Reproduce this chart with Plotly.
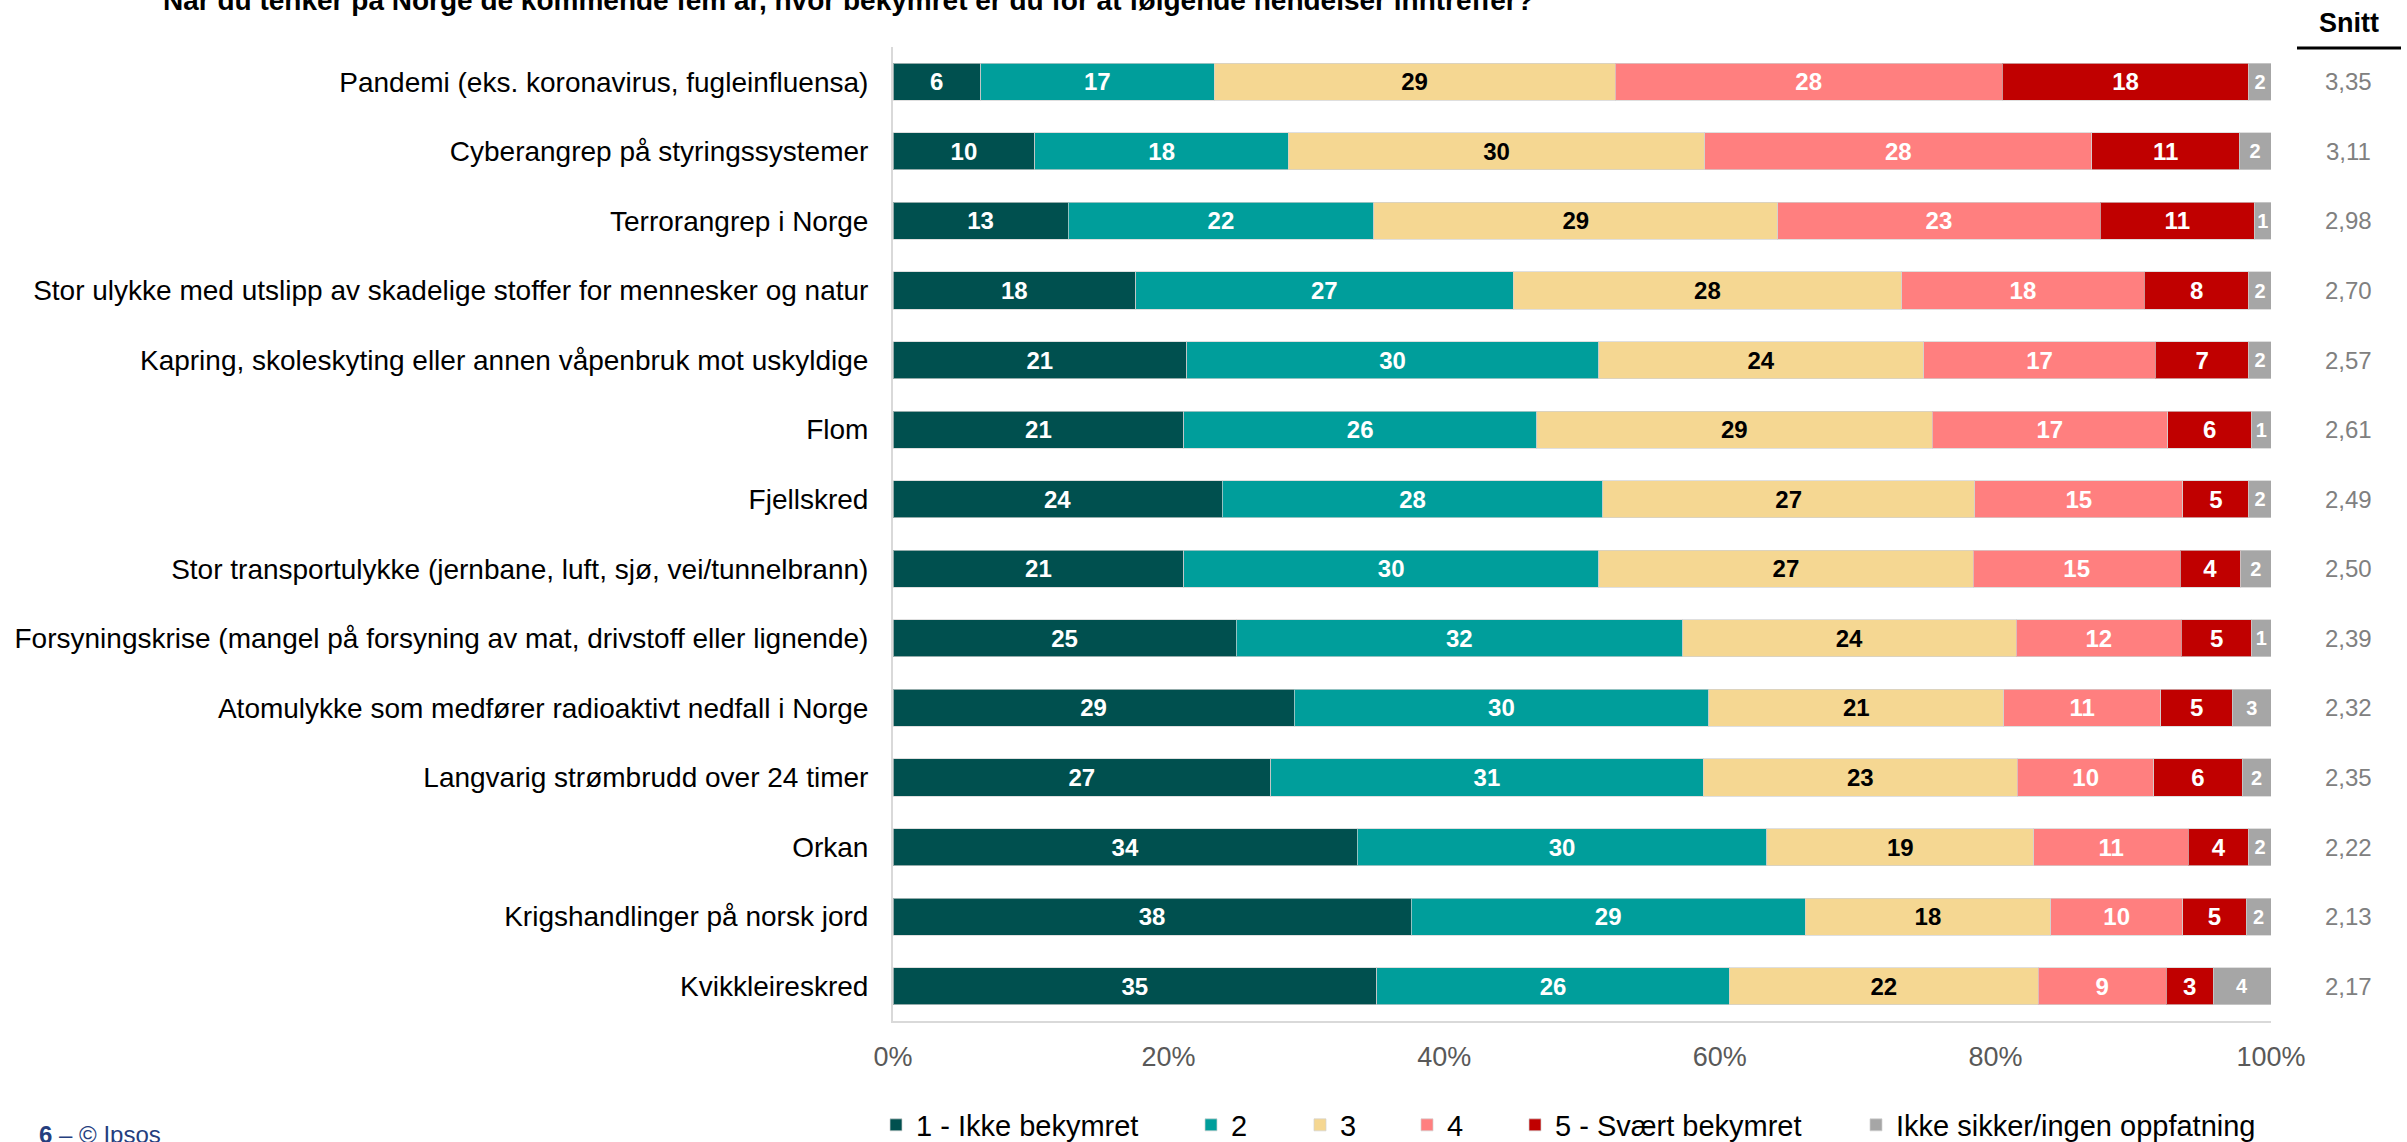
import plotly.graph_objects as go

categories = [
    "Pandemi (eks. koronavirus, fugleinfluensa)",
    "Cyberangrep på styringssystemer",
    "Terrorangrep i Norge",
    "Stor ulykke med utslipp av skadelige stoffer for mennesker og natur",
    "Kapring, skoleskyting eller annen våpenbruk mot uskyldige",
    "Flom",
    "Fjellskred",
    "Stor transportulykke (jernbane, luft, sjø, vei/tunnelbrann)",
    "Forsyningskrise (mangel på forsyning av mat, drivstoff eller lignende)",
    "Atomulykke som medfører radioaktivt nedfall i Norge",
    "Langvarig strømbrudd over 24 timer",
    "Orkan",
    "Krigshandlinger på norsk jord",
    "Kvikkleireskred",
]

ikke_bekymret = [6.35, 10.3, 12.7, 17.6, 21.3, 21.1, 23.9, 21.1, 24.9, 29.1, 27.4, 33.7, 37.6, 35.1]
score_2 = [16.95, 18.4, 22.2, 27.4, 29.9, 25.6, 27.6, 30.1, 32.4, 30.1, 31.4, 29.7, 28.6, 25.6]
score_3 = [29.1, 30.2, 29.3, 28.2, 23.6, 28.7, 27.0, 27.2, 24.2, 21.4, 22.8, 19.4, 17.8, 22.4]
score_4 = [28.1, 28.1, 23.4, 17.6, 16.8, 17.1, 15.1, 15.0, 12.0, 11.4, 9.9, 11.2, 9.6, 9.3]
svaert_bekymret = [17.9, 10.7, 11.2, 7.6, 6.8, 6.1, 4.8, 4.4, 5.1, 5.2, 6.4, 4.4, 4.6, 3.4]
ikke_sikker = [1.6, 2.3, 1.2, 1.6, 1.6, 1.4, 1.6, 2.2, 1.4, 2.8, 2.1, 1.6, 1.8, 4.2]

snitt = [3.35, 3.11, 2.98, 2.70, 2.57, 2.61, 2.49, 2.50, 2.39, 2.32, 2.35, 2.22, 2.13, 2.17]

series_names = ["1 - Ikke bekymret", "2", "3", "4", "5 - Svært bekymret", "Ikke sikker/ingen oppfatning"]
series_values = [ikke_bekymret, score_2, score_3, score_4, svaert_bekymret, ikke_sikker]
series_colors = ["#00504F", "#009E9B", "#F5D792", "#FF7F7F", "#C00000", "#A6A6A6"]
text_colors = ["white", "white", "black", "white", "white", "white"]
text_sizes = [24, 24, 24, 24, 24, 20]

x_ticks = [0, 20, 40, 60, 80, 100]
x_tick_labels = ["0%", "20%", "40%", "60%", "80%", "100%"]

title_text = "Når du tenker på Norge de kommende fem år, hvor bekymret er du for at følgende hendelser inntreffer?"

FONT = "Liberation Sans, Arial, sans-serif"

W, H = 2407, 1142
L, R, T, B = 893, 136, 47, 121
PW = W - L - R
PH = H - T - B

# left edge of each legend marker (px)
legend_marker_left = [895, 1210, 1319, 1426, 1534, 1875]
LEG_OFFSET = 19


def px_x(px):
    return (px - L) / PW


def px_y(py):
    return 1 - (py - T) / PH


fig = go.Figure()
legend_ids = ["legend", "legend2", "legend3", "legend4", "legend5", "legend6"]
for name, vals, col, tcol, tsize, lid in zip(series_names, series_values, series_colors,
                                            text_colors, text_sizes, legend_ids):
    fig.add_trace(go.Bar(
        name=name,
        y=categories,
        x=vals,
        orientation="h",
        legend=lid,
        marker=dict(color=col, line=dict(color="rgba(210,210,210,0.7)", width=1)),
        texttemplate="<b>%{x:.0f}</b>",
        textposition="inside",
        insidetextanchor="middle",
        constraintext="none",
        textangle=0,
        textfont=dict(color=tcol, size=tsize, family=FONT),
        hoverinfo="skip",
    ))

annotations = []
for cat, s in zip(categories, snitt):
    annotations.append(dict(
        x=px_x(2348), xref="paper", y=cat, yref="y",
        text=f"{s:.2f}".replace(".", ","), showarrow=False,
        xanchor="center", yanchor="middle",
        font=dict(size=24, color="#808080", family=FONT),
    ))

annotations.append(dict(
    x=px_x(2349), xref="paper", y=px_y(23), yref="paper",
    text="<b>Snitt</b>", showarrow=False, xanchor="center", yanchor="middle",
    font=dict(size=27, color="black", family=FONT),
))
annotations.append(dict(
    x=px_x(1536), xref="paper", y=px_y(0), yref="paper",
    text=f"<b>{title_text}</b>", showarrow=False, xanchor="right", yanchor="middle",
    font=dict(size=28, color="black", family=FONT),
))
annotations.append(dict(
    x=px_x(37), xref="paper", y=px_y(1134), yref="paper",
    text="<b>6</b> – © Ipsos", showarrow=False, xanchor="left", yanchor="middle",
    font=dict(size=24, color="#253E7E", family=FONT),
))

layout_legends = {}
for lid, left in zip(legend_ids, legend_marker_left):
    layout_legends[lid] = dict(
        orientation="h",
        x=px_x(left - LEG_OFFSET), xanchor="left",
        y=px_y(1125), yanchor="middle",
        font=dict(size=29, color="black", family=FONT),
        itemwidth=30,
        itemclick=False,
        itemdoubleclick=False,
        bgcolor="rgba(0,0,0,0)",
    )

fig.update_layout(
    width=W, height=H,
    margin=dict(l=L, r=R, t=T, b=B, autoexpand=False),
    barmode="stack",
    bargap=0.468,
    plot_bgcolor="white",
    paper_bgcolor="white",
    font=dict(family=FONT, color="black"),
    showlegend=True,
    annotations=annotations,
    shapes=[dict(
        type="line", xref="paper", yref="paper",
        x0=px_x(2297), x1=px_x(2401), y0=px_y(48), y1=px_y(48),
        line=dict(color="black", width=3),
    )],
    **layout_legends,
)

fig.update_xaxes(
    range=[0, 100],
    tickvals=x_ticks,
    ticktext=x_tick_labels,
    showgrid=False,
    zeroline=False,
    showline=True,
    linecolor="#D9D9D9",
    linewidth=2,
    ticks="",
    ticklabelstandoff=11,
    tickfont=dict(size=27, color="#595959", family=FONT),
    fixedrange=True,
)
fig.update_yaxes(
    categoryorder="array",
    categoryarray=categories,
    autorange="reversed",
    showgrid=False,
    zeroline=False,
    showline=True,
    linecolor="#D9D9D9",
    linewidth=2,
    ticks="",
    ticklabelstandoff=17,
    tickfont=dict(size=28, color="black", family=FONT),
    fixedrange=True,
)

fig.write_html(
    "out.html",
    config={"displayModeBar": False},
    post_script="document.body.style.margin='0';document.body.style.padding='0';",
)
